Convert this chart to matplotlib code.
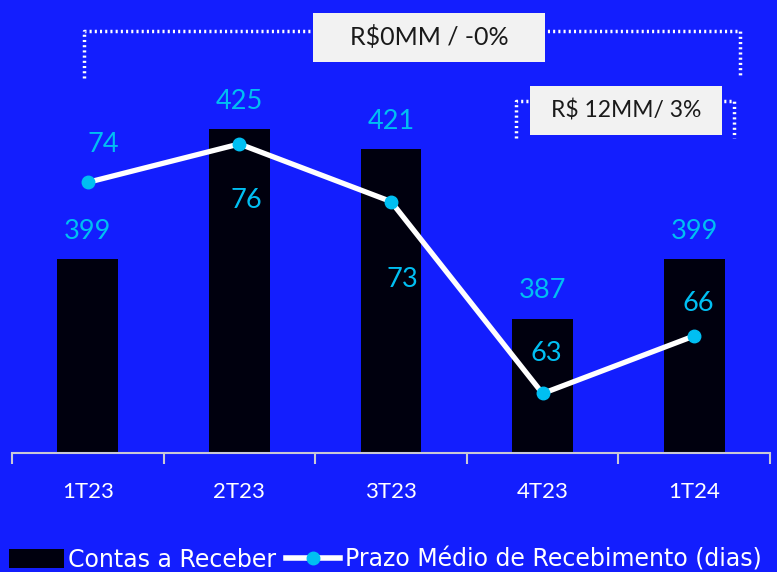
import matplotlib.pyplot as plt
from matplotlib.lines import Line2D
from matplotlib.patches import Rectangle

periodos = ["1T23", "2T23", "3T23", "4T23", "1T24"]
contas_receber = [399, 425, 421, 387, 399]
prazo_medio = [74, 76, 73, 63, 66]

fundo = "#131EFE"
ciano = "#00BFF2"
plt.rcParams["font.family"] = ["Lato", "DejaVu Sans"]

fig = plt.figure(figsize=(7.77, 5.72), dpi=100, facecolor=fundo)
ax = fig.add_axes([12 / 777, 119 / 572, 758 / 777, 453 / 572])
ax.set_facecolor(fundo)
x = range(len(periodos))

ax.bar(x, contas_receber, width=0.4, color="#00000E", zorder=2)
ax.set_ylim(360, 451)
ax.set_xlim(-0.5, 4.5)
for i, v in enumerate(contas_receber):
    ax.annotate(str(v), (i, v), xytext=(0, 20), textcoords="offset points",
                ha="center", va="center", color=ciano, fontsize=19.5)

for s in ["top", "left", "right"]:
    ax.spines[s].set_visible(False)
ax.spines["bottom"].set_color("#C9C9D6")
ax.spines["bottom"].set_linewidth(1.5)
ax.set_yticks([])
ax.set_xticks(list(x))
ax.set_xticklabels(periodos, color="white", fontsize=16, family="Lato")
ax.tick_params(axis="x", which="major", length=0, pad=21)
ax.set_xticks([i - 0.5 for i in range(len(periodos) + 1)], minor=True)
ax.tick_params(axis="x", which="minor", length=8, width=1.5, color="#C9C9D6")

ax2 = ax.twinx()
ax2.set_ylim(59.9, 83.5)
ax2.axis("off")
ax2.plot(x, prazo_medio, color="white", lw=3.8, marker="o", ms=9,
         markerfacecolor=ciano, markeredgecolor=ciano, zorder=3)
desloc = [(11, 27), (5, -41), (8, -56), (3, 29), (3, 23)]
for i, v in enumerate(prazo_medio):
    ax2.annotate(str(v), (i, v), xytext=desloc[i], textcoords="offset points",
                 ha="center", va="center", color=ciano, fontsize=19.5)

# colchetes pontilhados e caixas de variacao
def px(xp, yp):
    return xp / 777, 1 - yp / 572

def colchete(x0, x1, ytop, ybot):
    xs = [x0, x0, x1, x1]
    ys = [ybot, ytop, ytop, ybot]
    fx, fy = zip(*[px(a, b) for a, b in zip(xs, ys)])
    fig.add_artist(Line2D(fx, fy, color="white", lw=2.5, ls=(0, (0.6, 0.9))))

colchete(84, 740, 31, 78)
colchete(516, 734, 101, 138)

def caixa(x0, x1, y0, y1, texto, tam):
    fx0, fy1 = px(x0, y1)
    fx1, fy0 = px(x1, y0)
    fig.add_artist(Rectangle((fx0, fy1), fx1 - fx0, fy0 - fy1,
                             transform=fig.transFigure, facecolor="#F2F2F2",
                             edgecolor="none", zorder=5))
    fig.text((fx0 + fx1) / 2, (fy0 + fy1) / 2, texto, ha="center", va="center",
             fontsize=tam, color="#1A1A1A", zorder=6)

caixa(313, 545, 13, 62, "R$0MM / -0%", 18)
caixa(530, 722, 86, 135, "R$ 12MM/ 3%", 16.5)

handles = [Rectangle((0, 0), 1, 1, facecolor="#00000E"),
           Line2D([], [], color="white", lw=4, marker="o", ms=9,
                  markerfacecolor=ciano, markeredgecolor=ciano)]
fig.legend(handles, ["Contas a Receber", "Prazo Médio de Recebimento (dias)"],
           loc="lower left", bbox_to_anchor=(0.0, -0.016), ncol=2, frameon=False,
           prop={"family": "DejaVu Sans", "size": 17}, labelcolor="white",
           handlelength=2.3, handleheight=0.9, handletextpad=0.2,
           columnspacing=0.4, borderaxespad=0.2, borderpad=0.2)

fig.savefig("out.png", dpi=100, facecolor=fundo)
